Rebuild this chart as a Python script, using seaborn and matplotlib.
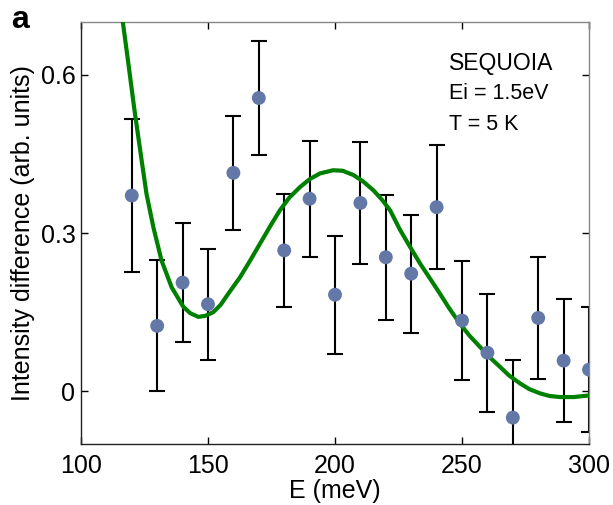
"""SEQUOIA intensity difference vs energy transfer"""

import matplotlib
matplotlib.use("Agg")
import matplotlib.pyplot as plt
import pandas as pd
import seaborn as sns

# measured points
energy = [120, 130, 140, 150, 160, 170, 180, 190, 200, 210,
          220, 230, 240, 250, 260, 270, 280, 290, 300]
intensity = [0.371, 0.124, 0.206, 0.165, 0.414, 0.556, 0.267, 0.365, 0.183, 0.357,
             0.254, 0.223, 0.349, 0.134, 0.073, -0.050, 0.139, 0.058, 0.041]
error = [0.145, 0.124, 0.113, 0.105, 0.108, 0.108, 0.107, 0.110, 0.112, 0.115,
         0.118, 0.112, 0.118, 0.113, 0.112, 0.110, 0.115, 0.117, 0.118]

# fitted curve
fit_energy = [115.5, 118.5, 121.0, 123.9, 125.8, 128.5, 131.7, 135.7, 140.3, 143.0,
              146.2, 149.0, 152.1, 155.0, 158.0, 162.6, 166.5, 170.5, 174.5, 178.3,
              182.0, 186.2, 190.0, 194.1, 199.3, 203.0, 207.2, 211.0, 215.1, 218.5,
              221.7, 225.6, 229.5, 233.5, 237.5, 241.3, 245.0, 249.2, 253.0, 257.1,
              261.0, 265.0, 268.5, 272.8, 276.5, 280.7, 284.5, 288.6, 294.0, 300.0]
fit_value = [0.735, 0.627, 0.535, 0.437, 0.374, 0.311, 0.248, 0.197, 0.160, 0.148,
             0.141, 0.143, 0.150, 0.164, 0.185, 0.216, 0.247, 0.280, 0.313, 0.343,
             0.367, 0.387, 0.402, 0.413, 0.419, 0.418, 0.410, 0.398, 0.381, 0.363,
             0.343, 0.306, 0.274, 0.242, 0.213, 0.185, 0.157, 0.128, 0.105, 0.084,
             0.064, 0.046, 0.030, 0.015, 0.004, -0.004, -0.009, -0.011, -0.011, -0.008]

ytick_vals = [0, 0.3, 0.6]
ytick_labels = ["0", "0.3", "0.6"]
xtick_vals = [100, 150, 200, 250, 300]

pts = pd.DataFrame({"E": energy, "I": intensity, "err": error})
fit = pd.DataFrame({"E": fit_energy, "I": fit_value})

sns.set_theme(style="ticks")
plt.rcParams["font.family"] = ["Liberation Sans", "DejaVu Sans"]
plt.rcParams["text.color"] = "black"
plt.rcParams["axes.labelcolor"] = "black"

fig = plt.figure(figsize=(6.13, 5.05), dpi=100)
ax = fig.add_axes([0.1321, 0.1208, 0.8288, 0.8356])

ax.errorbar(pts["E"], pts["I"], yerr=pts["err"], fmt="none", ecolor="black",
            elinewidth=1.5, capsize=5.5, capthick=1.5, zorder=2)
sns.lineplot(data=fit, x="E", y="I", ax=ax, color="#008000", linewidth=3.0,
             sort=False, zorder=3)
sns.scatterplot(data=pts, x="E", y="I", ax=ax, color="#6378a6", s=100,
                edgecolor="none", zorder=4)

ax.set_xlim(100, 300)
ax.set_ylim(-0.1, 0.7)
ax.set_xticks(xtick_vals)
ax.set_yticks(ytick_vals)
ax.set_yticklabels(ytick_labels)
ax.tick_params(direction="in", top=True, right=True, length=5, width=1,
               labelsize=18, colors="black")
ax.tick_params(axis="x", pad=7)
ax.tick_params(axis="y", pad=4)
for side in ["top", "right"]:
    ax.spines[side].set_color("#888888")
for side in ["left", "bottom"]:
    ax.spines[side].set_color("#222222")
for sp in ax.spines.values():
    sp.set_linewidth(1.0)

ax.set_xlabel("E (meV)", fontsize=18, labelpad=1)
ax.set_ylabel("Intensity difference (arb. units)", fontsize=18, labelpad=4)

ax.text(0.725, 0.887, "SEQUOIA", transform=ax.transAxes, fontsize=16.5)
ax.text(0.725, 0.818, "Ei = 1.5eV", transform=ax.transAxes, fontsize=15.5)
ax.text(0.725, 0.745, "T = 5 K", transform=ax.transAxes, fontsize=15.5)
fig.text(0.018, 0.945, "a", fontsize=23, fontweight="bold")

fig.savefig("out.png", dpi=100)
plt.close(fig)
